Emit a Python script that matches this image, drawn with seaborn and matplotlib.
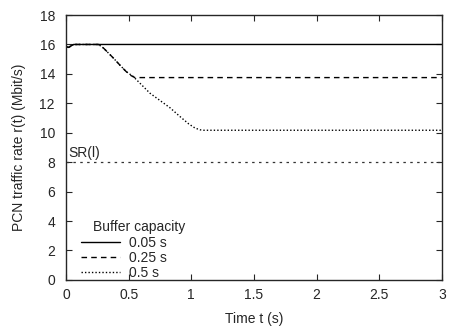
import numpy as np
import pandas as pd
import seaborn as sns
import matplotlib.pyplot as plt

# time points (s) and traffic rate r(t) (Mbit/s)
t_005 = [0, 0.02, 0.06, 0.1, 3.0]
r_005 = [15.85, 15.8, 16.0, 16.0, 16.0]

t_025 = [0, 0.02, 0.06, 0.26, 0.3, 0.38, 0.43, 0.48, 0.52, 0.55, 3.0]
r_025 = [15.85, 15.8, 16.0, 16.0, 15.75, 15.06, 14.6, 14.16, 13.88, 13.75, 13.75]

t_05 = [0, 0.02, 0.06, 0.26, 0.3, 0.38, 0.43, 0.48, 0.537, 0.67, 0.83, 0.91,
        0.98, 1.03, 1.07, 1.1, 3.0]
r_05 = [15.85, 15.8, 16.0, 16.0, 15.75, 15.06, 14.6, 14.16, 13.82, 12.69, 11.7,
        11.1, 10.6, 10.32, 10.2, 10.17, 10.17]

labels = ["0.05 s", "0.25 s", "0.5 s"]
sr_level = 8

sns.set_style("ticks")
plt.rcParams['font.family'] = ['Liberation Sans', 'DejaVu Sans']
plt.rcParams['font.size'] = 10

df = pd.concat([
    pd.DataFrame({"t": t_005, "r": r_005, "buf": labels[0]}),
    pd.DataFrame({"t": t_025, "r": r_025, "buf": labels[1]}),
    pd.DataFrame({"t": t_05, "r": r_05, "buf": labels[2]}),
])

fig = plt.figure(figsize=(4.49, 3.27), dpi=100)
ax = fig.add_axes([0.147, 0.144, 0.837, 0.81])

styles = {labels[0]: "-", labels[1]: (0, (4, 3)), labels[2]: (0, (1, 1.5))}
for lab in labels:
    sns.lineplot(data=df[df["buf"] == lab], x="t", y="r", color="black",
                 linestyle=styles[lab], linewidth=1.0, label=lab, ax=ax,
                 estimator=None, sort=False)

ax.plot([0, 3], [sr_level, sr_level], color="#333333", linestyle=(0, (2, 3.5)),
        linewidth=0.9)
ax.text(0.02, sr_level + 0.15, "SR(l)", fontsize=10, va="bottom", ha="left")

ax.set_xlim(0, 3)
ax.set_ylim(0, 18)
ax.set_xticks(np.arange(0, 3.01, 0.5))
ax.set_xticklabels(["0", "0.5", "1", "1.5", "2", "2.5", "3"])
ax.set_yticks(np.arange(0, 19, 2))
ax.tick_params(direction="in", top=True, right=True, length=4, width=0.8,
               labelsize=10)
ax.tick_params(axis="x", pad=6)
ax.tick_params(axis="y", pad=8)
for s in ax.spines.values():
    s.set_linewidth(1.0)
ax.set_xlabel("Time t (s)", fontsize=10, labelpad=7)
ax.set_ylabel("PCN traffic rate r(t) (Mbit/s)", fontsize=10, labelpad=10)

# legend title drawn on its own, gnuplot-style (offset right of the handles)
ax.text(0.215, 3.6, "Buffer capacity", fontsize=10, va="center", ha="left")
leg = ax.legend(loc="lower left", frameon=False,
                bbox_to_anchor=(0.017, -0.03), handlelength=2.8,
                labelspacing=0.05, handletextpad=0.65, borderaxespad=0.2,
                fontsize=10)

fig.savefig("out.png", dpi=100)
